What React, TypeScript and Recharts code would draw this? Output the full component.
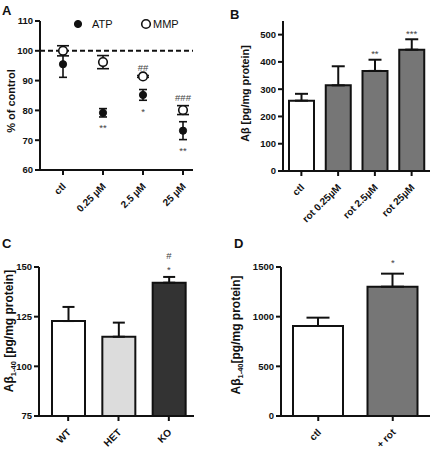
import React from "react";
import {
  ComposedChart,
  BarChart,
  Bar,
  Line,
  XAxis,
  YAxis,
  ErrorBar,
  ReferenceLine,
  ReferenceDot,
  Legend,
  Cell,
  Label,
} from "recharts";

// Panel A – ATP / MMP after rotenone, % of control
const doseLabels = ["ctl", "0.25 µM", "2.5 µM", "25 µM"];
const atpMean = [95.5, 79.2, 85.2, 73.2];
const atpSem = [4.4, 1.4, 1.8, 3.0];
const mmpMean = [100, 96.2, 91.4, 80.1];
const mmpSem = [1.7, 2.2, 0.3, 1.5];
const atpStars = ["", "**", "*", "**"];
const mmpHashes = ["", "", "##", "###"];
const pctTicks = [60, 70, 80, 90, 100, 110];

// Panel B – Aβ after rotenone
const rotLabels = ["ctl", "rot 0.25µM", "rot 2.5µM", "rot 25µM"];
const abMean = [258, 314, 367, 445];
const abSem = [25, 70, 41, 38];
const abStars = ["", "", "**", "***"];
const abTicks = [0, 100, 200, 300, 400, 500];

// Panel C – Aβ1-40 by genotype
const genotypes = ["WT", "HET", "KO"];
const ab40Mean = [122.8, 114.9, 142.1];
const ab40Sem = [7.1, 7.1, 2.9];
const ab40Stars = ["", "", "*"];
const ab40Hashes = ["", "", "#"];
const ab40Ticks = [75, 100, 125, 150];

// Panel D – Aβ1-40 ctl vs rotenone
const rotGroups = ["ctl", "+ rot"];
const rotMean = [906, 1302];
const rotSem = [84, 131];
const rotStars = ["", "*"];
const rotTicks = [0, 500, 1000, 1500];

const FONT = '"Liberation Sans", Arial, Helvetica, sans-serif';
const INK = "#111";
const NOTE = "#444";
const FILL_B = ["#ffffff", "#767676", "#767676", "#767676"];
const FILL_C = ["#ffffff", "#dcdcdc", "#333333"];
const FILL_D = ["#ffffff", "#767676"];

const AX = { stroke: INK, strokeWidth: 2 };
const YTICK = { fontSize: 9.5, fontWeight: "bold", fill: INK, fontFamily: FONT };
const NOTE_STYLE = { fill: NOTE, fontSize: 9.5, fontFamily: FONT };

const rotTick = (labels?: string[]) => (props: any) => {
  const { x, y, payload } = props;
  const text = labels ? labels[payload.value] : payload.value;
  const ex = x + 3.5;
  const ey = y + 10;
  return (
    <text
      x={ex}
      y={ey}
      transform={`rotate(-45 ${ex} ${ey})`}
      textAnchor="end"
      fontSize={10}
      fontWeight="bold"
      fontFamily={FONT}
      fill={INK}
    >
      {text}
    </text>
  );
};

// rotated y title drawn at a fixed spot inside its panel
const yTitle = (x: number, y: number, size: number, parts: React.ReactNode) => () => (
  <text
    x={x}
    y={y}
    transform={`rotate(-90 ${x} ${y})`}
    textAnchor="middle"
    fontSize={size}
    fontWeight="bold"
    fontFamily={FONT}
    fill={INK}
  >
    {parts}
  </text>
);

const ab140 = (gap: string) => (
  <>
    <tspan>Aβ</tspan>
    <tspan dy={3} fontSize={7.5}>1-40</tspan>
    <tspan dy={-3}>{gap}[pg/mg protein]</tspan>
  </>
);

function PanelLetter({ ch, left, top }: { ch: string; left: number; top: number }) {
  return (
    <div style={{ position: "absolute", left, top, fontSize: 13, lineHeight: "13px", fontWeight: "bold", fontFamily: FONT, color: INK }}>
      {ch}
    </div>
  );
}

function DoseLegend(props: any) {
  const items = props.payload || [];
  return (
    <svg width={140} height={16} style={{ display: "block", overflow: "visible" }}>
      {items.map((it: any, i: number) => {
        const cx = 8 + i * 68;
        const open = it.value === "MMP";
        return (
          <g key={it.value}>
            <circle cx={cx} cy={8} r={open ? 4.3 : 3.6} fill={open ? "#fff" : INK} stroke={INK} strokeWidth={open ? 1.6 : 1} />
            <text x={cx + (open ? 7 : 14)} y={12} fontSize={11} fontFamily={FONT} fill={INK}>
              {it.value}
            </text>
          </g>
        );
      })}
    </svg>
  );
}

function PanelA() {
  const rows = doseLabels.map((_, i) => ({
    idx: i,
    atp: atpMean[i],
    atpErr: atpSem[i],
    mmp: mmpMean[i],
    mmpErr: mmpSem[i],
  }));
  return (
    <ComposedChart width={215} height={225} data={rows} margin={{ top: 21, right: 22, bottom: 0, left: 0 }}>
      <XAxis
        type="number"
        dataKey="idx"
        domain={[-0.575, 3.25]}
        allowDataOverflow
        ticks={[0, 1, 2, 3]}
        interval={0}
        height={55}
        axisLine={AX}
        tickLine={AX}
        tickSize={5}
        tick={rotTick(doseLabels)}
      />
      <YAxis
        domain={[60, 110]}
        ticks={pctTicks}
        interval={0}
        width={40}
        axisLine={AX}
        tickLine={AX}
        tickSize={5}
        tickMargin={2}
        tick={YTICK}
        label={yTitle(15, 101, 11, "% of control")}
      />
      <ReferenceLine y={100} stroke={INK} strokeWidth={2} strokeDasharray="5 3" />
      <Legend
        verticalAlign="middle"
        align="center"
        wrapperStyle={{ top: 16, left: 70, width: 140 }}
        content={DoseLegend}
      />
      <Line
        dataKey="atp"
        name="ATP"
        stroke="none"
        dot={{ r: 3.6, fill: INK, stroke: INK, strokeWidth: 1 }}
        activeDot={false}
        isAnimationActive={false}
      >
        <ErrorBar dataKey="atpErr" width={4} stroke={INK} strokeWidth={1.6} />
      </Line>
      <Line
        dataKey="mmp"
        name="MMP"
        stroke="none"
        dot={{ r: 4.3, fill: "#fff", stroke: INK, strokeWidth: 1.6 }}
        activeDot={false}
        isAnimationActive={false}
      >
        <ErrorBar dataKey="mmpErr" width={6} stroke={INK} strokeWidth={1.6} />
      </Line>
      {atpStars.map((s, i) =>
        s ? (
          <ReferenceDot key={"a" + i} x={i} y={atpMean[i] - atpSem[i]} r={0.5} fill="none" stroke="none"
            label={{ value: s, position: "bottom", offset: 7, ...NOTE_STYLE }} />
        ) : null
      )}
      {mmpHashes.map((s, i) =>
        s ? (
          <ReferenceDot key={"m" + i} x={i} y={mmpMean[i] + mmpSem[i]} r={0.5} fill="none" stroke="none"
            label={{ value: s, position: "top", offset: 4, ...NOTE_STYLE }} />
        ) : null
      )}
    </ComposedChart>
  );
}

function PanelB() {
  const rows = rotLabels.map((name, i) => ({ name, mean: abMean[i], err: [0, abSem[i]] }));
  return (
    <BarChart width={218} height={225} data={rows} margin={{ top: 21, right: 3, bottom: 0, left: 0 }}>
      <XAxis dataKey="name" height={54} axisLine={AX} tickLine={AX} tickSize={5} interval={0} tick={rotTick()} />
      <YAxis
        domain={[0, 550]}
        ticks={abTicks}
        interval={0}
        width={68}
        axisLine={AX}
        tickLine={AX}
        tickSize={5}
        tickMargin={2}
        tick={YTICK}
        label={yTitle(34, 93.5, 10.8, "Aβ [pg/mg protein]")}
      />
      <Bar dataKey="mean" barSize={25} stroke={INK} strokeWidth={2} isAnimationActive={false}>
        {rows.map((r, i) => (
          <Cell key={r.name} fill={FILL_B[i]} />
        ))}
        <ErrorBar dataKey="err" width={6.5} stroke={INK} strokeWidth={2} />
      </Bar>
      {abStars.map((s, i) =>
        s ? (
          <ReferenceDot key={i} x={rotLabels[i]} y={abMean[i] + abSem[i]} r={0.5} fill="none" stroke="none"
            label={{ value: s, position: "top", offset: 2, ...NOTE_STYLE }} />
        ) : null
      )}
    </BarChart>
  );
}

function PanelC() {
  const rows = genotypes.map((name, i) => ({ name, mean: ab40Mean[i], err: [0, ab40Sem[i]] }));
  return (
    <BarChart width={215} height={225} data={rows} margin={{ top: 42, right: 21, bottom: 0, left: 0 }}>
      <XAxis dataKey="name" height={34} padding={{ left: 4, right: 0 }} axisLine={AX} tickLine={AX} tickSize={5} interval={0} tick={rotTick()} />
      <YAxis
        domain={[75, 150]}
        ticks={ab40Ticks}
        interval={0}
        width={39}
        axisLine={AX}
        tickLine={AX}
        tickSize={5}
        tickMargin={2}
        tick={YTICK}
        label={yTitle(13, 106, 12, ab140(" "))}
      />
      <Bar dataKey="mean" barSize={33} stroke={INK} strokeWidth={2} isAnimationActive={false}>
        {rows.map((r, i) => (
          <Cell key={r.name} fill={FILL_C[i]} />
        ))}
        <ErrorBar dataKey="err" width={6} stroke={INK} strokeWidth={2} />
      </Bar>
      {ab40Stars.map((s, i) =>
        s ? (
          <ReferenceDot key={i} x={genotypes[i]} y={ab40Mean[i] + ab40Sem[i]} r={0.5} fill="none" stroke="none">
            <Label value={s} position="top" offset={3.5} {...NOTE_STYLE} />
            <Label value={ab40Hashes[i]} position="top" offset={17} {...NOTE_STYLE} />
          </ReferenceDot>
        ) : null
      )}
    </BarChart>
  );
}

function PanelD() {
  const rows = rotGroups.map((name, i) => ({ name, mean: rotMean[i], err: [0, rotSem[i]] }));
  return (
    <BarChart width={218} height={225} data={rows} margin={{ top: 42, right: 3, bottom: 0, left: 0 }}>
      <XAxis dataKey="name" height={34} axisLine={AX} tickLine={AX} tickSize={5} interval={0} tick={rotTick()} />
      <YAxis
        domain={[0, 1500]}
        ticks={rotTicks}
        interval={0}
        width={66}
        axisLine={AX}
        tickLine={AX}
        tickSize={5}
        tickMargin={2}
        tick={YTICK}
        label={yTitle(24.5, 110, 12, ab140(""))}
      />
      <Bar dataKey="mean" barSize={50} stroke={INK} strokeWidth={2} isAnimationActive={false}>
        {rows.map((r, i) => (
          <Cell key={r.name} fill={FILL_D[i]} />
        ))}
        <ErrorBar dataKey="err" width={11.5} stroke={INK} strokeWidth={2} />
      </Bar>
      {rotStars.map((s, i) =>
        s ? (
          <ReferenceDot key={i} x={rotGroups[i]} y={rotMean[i] + rotSem[i]} r={0.5} fill="none" stroke="none"
            label={{ value: s, position: "top", offset: 7, ...NOTE_STYLE }} />
        ) : null
      )}
    </BarChart>
  );
}

export default function App() {
  return (
    <div style={{ position: "absolute", left: 0, top: 0, width: 433, height: 450, background: "#fff", fontFamily: FONT }}>
      <div style={{ position: "absolute", left: 0, top: 0 }}><PanelA /></div>
      <div style={{ position: "absolute", left: 215, top: 0 }}><PanelB /></div>
      <div style={{ position: "absolute", left: 0, top: 225 }}><PanelC /></div>
      <div style={{ position: "absolute", left: 215, top: 225 }}><PanelD /></div>
      <PanelLetter ch="A" left={2} top={4} />
      <PanelLetter ch="B" left={230} top={8} />
      <PanelLetter ch="C" left={2} top={237} />
      <PanelLetter ch="D" left={234} top={237} />
    </div>
  );
}
